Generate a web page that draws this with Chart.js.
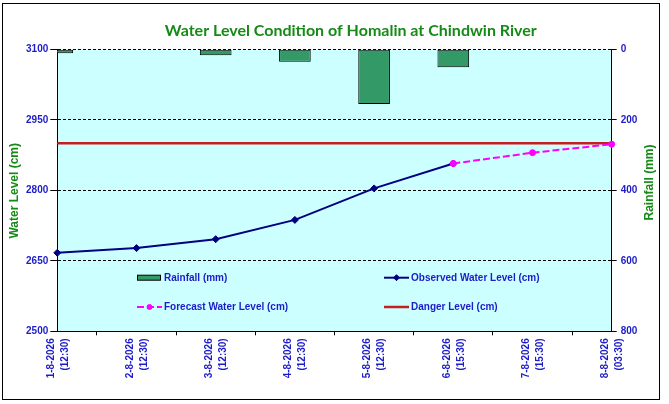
<!DOCTYPE html>
<html><head><meta charset="utf-8">
<script src="https://cdn.jsdelivr.net/npm/chart.js@4.4.1/dist/chart.umd.min.js"></script>
<style>html,body{margin:0;padding:0;background:#fff;}canvas{display:block}</style>
</head><body>
<canvas id="c" width="669" height="404"></canvas>
<script>
const dates = ['1-8-2026','2-8-2026','3-8-2026','4-8-2026','5-8-2026','6-8-2026','7-8-2026','8-8-2026'];
const times = ['12:30','12:30','12:30','12:30','12:30','15:30','15:30','03:30'];
const rainfall = [11, 0, 17, 35, 155, 51, null, null];
const observed = [2667, 2677, 2696, 2737, 2804, 2857, null, null];
const forecast = [null, null, null, null, null, 2857, 2880, 2898];
const dangerLevel = [2900, 2900, 2900, 2900, 2900, 2900, 2900, 2900];
const waterTicks = [2500, 2650, 2800, 2950, 3100];
const rainTicks = [0, 200, 400, 600, 800];
const seriesNames = ['Rainfall (mm)', 'Observed Water Level (cm)', 'Forecast Water Level (cm)', 'Danger Level (cm)'];
const chartTitle = 'Water Level Condition of Homalin at Chindwin River';
const leftTitle = 'Water Level (cm)';
const rightTitle = 'Rainfall (mm)';

const BLUE = '#1c1cc8';
const GREEN = '#168a16';
const labels = dates.map((d, i) => [d, '(' + times[i] + ')']);

const decor = {
  id: 'decor',
  beforeDraw(chart) {
    const {ctx, chartArea: a} = chart;
    ctx.save();
    ctx.fillStyle = '#fff';
    ctx.fillRect(0, 0, chart.width, chart.height);
    ctx.strokeStyle = '#000';
    ctx.lineWidth = 1;
    ctx.strokeRect(2.5, 3.5, 657, 396);
    ctx.fillStyle = '#CCFFFF';
    ctx.fillRect(a.left, a.top, a.right - a.left, a.bottom - a.top);
    ctx.restore();
  },
  afterDraw(chart) {
    const ctx = chart.ctx;
    ctx.save();
    ctx.fillStyle = GREEN;
    ctx.textAlign = 'center';
    ctx.textBaseline = 'middle';
    ctx.font = 'bold 16px Lato';
    ctx.fillText(chartTitle, 350.8, 31);
    ctx.font = 'bold 12px "Liberation Sans"';
    ctx.save(); ctx.translate(15, 190.8); ctx.rotate(-Math.PI / 2); ctx.fillText(leftTitle, 0, 0); ctx.restore();
    ctx.save(); ctx.translate(650, 182.5); ctx.rotate(-Math.PI / 2); ctx.fillText(rightTitle, 0, 0); ctx.restore();
    // legend
    const pos = [[137, 277.7], [384, 277.7], [137, 307], [384, 307]];
    ctx.font = 'bold 10px "Liberation Sans"';
    ctx.textAlign = 'left';
    chart.data.datasets.forEach((ds, i) => {
      const [x, y] = pos[i];
      if (ds.type === 'bar') {
        ctx.fillStyle = ds.backgroundColor;
        ctx.fillRect(x, y - 2.5, 23, 5);
        ctx.strokeStyle = ds.borderColor; ctx.lineWidth = 1;
        ctx.strokeRect(x + 0.5, y - 2.5, 23, 5);
      } else {
        ctx.strokeStyle = ds.borderColor;
        ctx.lineWidth = ds.borderWidth;
        ctx.setLineDash(ds.borderDash || []);
        ctx.beginPath(); ctx.moveTo(x, y); ctx.lineTo(x + 25, y); ctx.stroke();
        ctx.setLineDash([]);
        if (ds.pointRadius > 0) {
          const r = ds.pointRadius - 0.5;
          ctx.fillStyle = ds.pointBackgroundColor;
          ctx.strokeStyle = ds.pointBorderColor;
          ctx.lineWidth = 1;
          ctx.beginPath();
          if (ds.pointStyle === 'rectRot') {
            ctx.moveTo(x + 12.5, y - r); ctx.lineTo(x + 12.5 + r, y); ctx.lineTo(x + 12.5, y + r); ctx.lineTo(x + 12.5 - r, y); ctx.closePath();
          } else {
            ctx.arc(x + 12.5, y, r, 0, Math.PI * 2);
          }
          ctx.fill(); ctx.stroke();
        }
      }
      ctx.fillStyle = BLUE;
      ctx.fillText(ds.label, x + 27, y + 0.5);
    });
    ctx.restore();
  }
};

const tickFont = {family: '"Liberation Sans"', size: 10, weight: 'bold'};

new Chart(document.getElementById('c'), {
  data: {
    labels: labels,
    datasets: [
      {type: 'bar', label: seriesNames[0], data: rainfall, yAxisID: 'y1', backgroundColor: '#339966', borderColor: '#000', borderWidth: 1, borderSkipped: false, barPercentage: 0.4, categoryPercentage: 1, clip: 0, order: 4},
      {type: 'line', label: seriesNames[1], data: observed, yAxisID: 'y', borderColor: '#000080', backgroundColor: '#000080', borderWidth: 2, pointStyle: 'rectRot', pointRadius: 3.5, pointBorderWidth: 1, pointBackgroundColor: '#000080', pointBorderColor: '#000080', tension: 0, order: 2},
      {type: 'line', label: seriesNames[2], data: forecast, yAxisID: 'y', borderColor: '#FF00FF', backgroundColor: '#FF00FF', borderWidth: 2, borderDash: [7, 3], pointStyle: 'circle', pointRadius: 3, pointBorderWidth: 1, pointBackgroundColor: '#FF00FF', pointBorderColor: '#FF00FF', tension: 0, order: 1},
      {type: 'line', label: seriesNames[3], data: dangerLevel, yAxisID: 'y', borderColor: '#C41E1E', backgroundColor: '#C41E1E', borderWidth: 2.5, pointRadius: 0, tension: 0, order: 3}
    ]
  },
  options: {
    responsive: false,
    animation: false,
    layout: {padding: {top: 49.3, left: 0, right: 0, bottom: 0}},
    plugins: {legend: {display: false}, tooltip: {enabled: false}, title: {display: false}},
    scales: {
      x: {
        type: 'category', offset: false,
        grid: {drawOnChartArea: false, drawTicks: true, tickLength: 4, color: '#000'},
        border: {color: '#000', width: 1},
        ticks: {autoSkip: false, maxRotation: 90, minRotation: 90, padding: 3, labelOffset: -6.5, color: BLUE, font: Object.assign({lineHeight: 1.4}, tickFont)},
        afterFit(s) { s.height = 72.7; }
      },
      y: {
        position: 'left', min: waterTicks[0], max: waterTicks[waterTicks.length - 1],
        afterBuildTicks(s) { s.ticks = waterTicks.map(v => ({value: v})); },
        ticks: {padding: 2, color: BLUE, font: tickFont, callback: v => String(v)},
        grid: {color: '#000', lineWidth: 1, tickLength: 7},
        border: {color: '#000', width: 1, dash: [3, 2]},
        afterFit(s) { s.width = 57.3; }
      },
      y1: {
        position: 'right', reverse: true, min: rainTicks[0], max: rainTicks[rainTicks.length - 1],
        afterBuildTicks(s) { s.ticks = rainTicks.map(v => ({value: v})); },
        ticks: {padding: 4, color: BLUE, font: tickFont, callback: v => String(v)},
        grid: {drawOnChartArea: false, color: '#000', tickLength: 5},
        border: {color: '#000', width: 1},
        afterFit(s) { s.width = 57.3; }
      }
    }
  },
  plugins: [decor]
});
</script>
</body></html>
